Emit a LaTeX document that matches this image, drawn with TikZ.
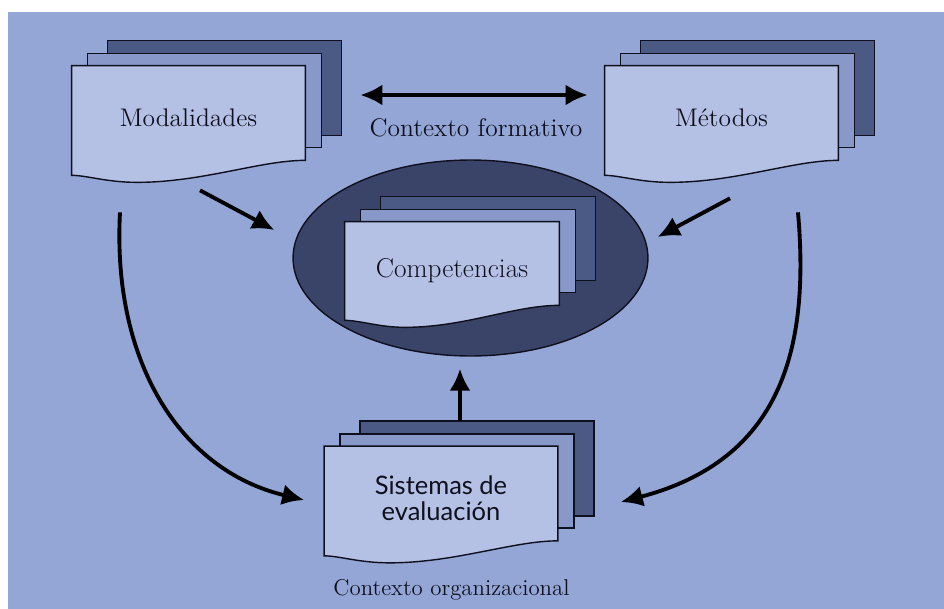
\documentclass[tikz,border=0pt]{standalone}
\usepackage{fontspec}
\newfontfamily\sansfnt{Lato}
\usetikzlibrary{arrows.meta,calc,shapes.geometric}

\definecolor{bgblue}{RGB}{148,166,214}
\definecolor{frontcol}{RGB}{180,192,228}
\definecolor{midcol}{RGB}{136,152,200}
\definecolor{backcol}{RGB}{74,90,132}
\definecolor{ovalcol}{RGB}{58,68,104}
\definecolor{inkcol}{RGB}{15,16,30}

\pgfdeclarelayer{bg}
\pgfdeclarelayer{sheets}
\pgfsetlayers{bg,sheets,main}

\tikzset{
  docnode/.style={minimum width=4.66cm, minimum height=1.88cm, inner sep=0pt,
    font=\fontsize{14.5}{16}\selectfont, text=inkcol},
  sheet/.style={draw=inkcol, line width=0.8pt},
  oval/.style={ellipse, draw=inkcol, line width=0.8pt, fill=ovalcol,
    minimum width=7.1cm, minimum height=3.92cm},
  ctx/.style={font=\fontsize{13}{15}\selectfont, text=inkcol},
  flow/.style={line width=2.2pt, draw=black, -{Latex[length=0.44cm,width=0.42cm]}},
}

% three stacked sheets behind a document node
\newcommand{\docstack}[1]{%
  \begin{pgfonlayer}{sheets}
    \draw[sheet,fill=backcol] ($(#1.north west)+(36,-25)$) rectangle ($(#1.south east)+(36,-25)$);
    \draw[sheet,fill=midcol] ($(#1.north west)+(16,-12)$) rectangle ($(#1.south east)+(16,-13)$);
    \draw[sheet,fill=frontcol] (#1.south east) -- (#1.north east) -- (#1.north west)
      -- ($(#1.south west)+(0,15)$)
      .. controls ($(#1.south west)+(15,15)$) and ($(#1.south west)+(35,22)$)
      .. ($(#1.south west)!0.28!(#1.south east)+(0,22)$)
      .. controls ($(#1.south west)!0.56!(#1.south east)+(0,22)$) and ($(#1.south east)+(-45,0)$)
      .. (#1.south east) -- cycle;
  \end{pgfonlayer}}

\begin{document}
\begin{tikzpicture}[x=0.02cm,y=-0.02cm]
\useasboundingbox (0,0) rectangle (944,609);
\begin{pgfonlayer}{bg}
  \fill[white] (0,0) rectangle (944,609);
  \fill[bgblue] (8,12) rectangle (944,609);
  \node[oval] (ell) at (470.5,258) {};
\end{pgfonlayer}

% documents
\node[docnode] (mod) at (188.5,113) {\raisebox{-0.26cm}[0pt][0pt]{Modalidades}};
\node[docnode] (met) at (721.5,113) {\raisebox{-0.26cm}[0pt][0pt]{Métodos}};
\node[docnode, minimum width=4.28cm, minimum height=1.66cm, font=\fontsize{15.5}{17}\selectfont]
  (comp) at (452,263.5) {\raisebox{-0.28cm}[0pt][0pt]{Competencias}};
\node[docnode, font=\sansfnt\fontsize{14.5}{14.5}\selectfont] (sis) at (441,493.5)
  {\raisebox{-0.29cm}[0pt][0pt]{\begin{tabular}{@{}c@{}}Sistemas de\\evaluación\end{tabular}}};
\docstack{mod}
\docstack{met}
\docstack{comp}
\docstack{sis}

% contexts
\node[ctx, font=\fontsize{14.5}{16}\selectfont] (ctxform) at (476,128) {Contexto formativo};
\node[ctx] (ctxorg) at (451.5,590) {Contexto organizacional};

% arrows
\draw[flow, {Latex[length=0.44cm,width=0.42cm]}-{Latex[length=0.44cm,width=0.42cm]}]
  ($(mod.east)+(55,-18)$) -- ($(met.west)+(-17,-18)$);
\draw[flow] ($(mod.south)+(11.5,30)$) -- ($(ell.west)+(-18,-28)$);
\draw[flow] ($(met.south)+(8.5,38)$) -- ($(ell.east)+(9,-21)$);
\draw[flow] ($(sis.north)+(19,-25)$) -- ($(ell.south)+(-10.5,12)$);
\draw[flow] ($(mod.south)+(-68.5,52)$)
  .. controls ($(mod.south)+(-76.5,200)$) and ($(sis.west)+(-145,-23.5)$)
  .. ($(sis.west)+(-20,6.5)$);
\draw[flow] ($(met.south)+(76.5,52)$)
  .. controls ($(met.south)+(88.5,190)$) and ($(sis.east)+(223,-33.5)$)
  .. ($(sis.east)+(63,8.5)$);
\end{tikzpicture}
\end{document}
